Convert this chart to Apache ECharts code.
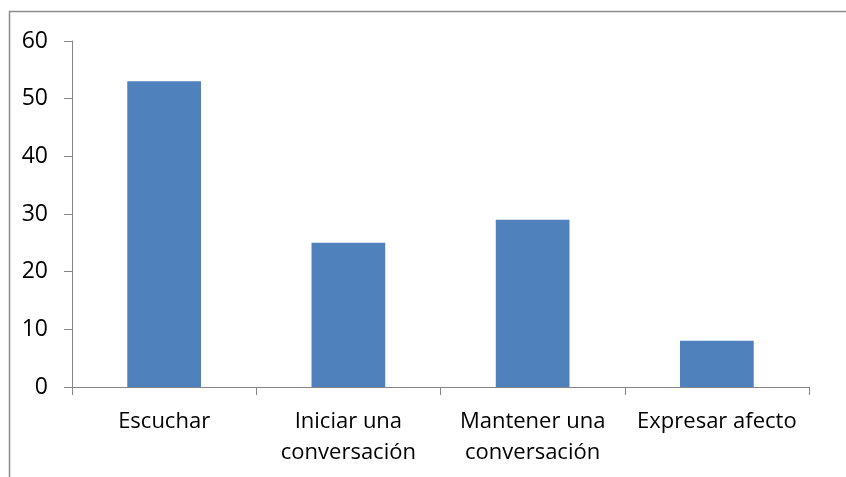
<!DOCTYPE html>
<html>
<head>
<meta charset="utf-8">
<script src="https://cdn.jsdelivr.net/npm/echarts@6/dist/echarts.min.js"></script>
<style>html,body{margin:0;padding:0;background:#fff}#c{width:846px;height:477px}</style>
</head>
<body>
<div id="c"></div>
<script>
const categories = ['Escuchar', 'Iniciar una\nconversación', 'Mantener una\nconversación', 'Expresar afecto'];
const values = [53, 25, 29, 8];
const yTicks = {min: 0, max: 60, interval: 10};

const chart = echarts.init(document.getElementById('c'), null, {renderer: 'canvas'});
const font = '"Open Sans", sans-serif';
chart.setOption({
  animation: false,
  graphic: [{
    type: 'rect',
    shape: {x: 9.5, y: 11.5, width: 900, height: 600},
    style: {fill: 'none', stroke: '#8c8c8c', lineWidth: 1.5},
    silent: true
  }],
  grid: {left: 72, right: 37, top: 41, bottom: 90},
  xAxis: {
    type: 'category',
    data: categories,
    axisLine: {lineStyle: {color: '#868686', width: 1}},
    axisTick: {show: true, length: 8, alignWithLabel: false, lineStyle: {color: '#868686'}},
    axisLabel: {color: '#000', fontSize: 22, fontFamily: font, lineHeight: 31, margin: 19, interval: 0}
  },
  yAxis: {
    type: 'value',
    min: yTicks.min, max: yTicks.max, interval: yTicks.interval,
    axisLine: {show: true, lineStyle: {color: '#868686', width: 1}},
    axisTick: {show: true, length: 8, lineStyle: {color: '#868686'}},
    splitLine: {show: false},
    axisLabel: {color: '#000', fontSize: 23, fontFamily: font, margin: 24}
  },
  series: [{
    type: 'bar',
    data: values,
    barWidth: '40%',
    itemStyle: {color: '#4F81BD'}
  }]
});
</script>
</body>
</html>
